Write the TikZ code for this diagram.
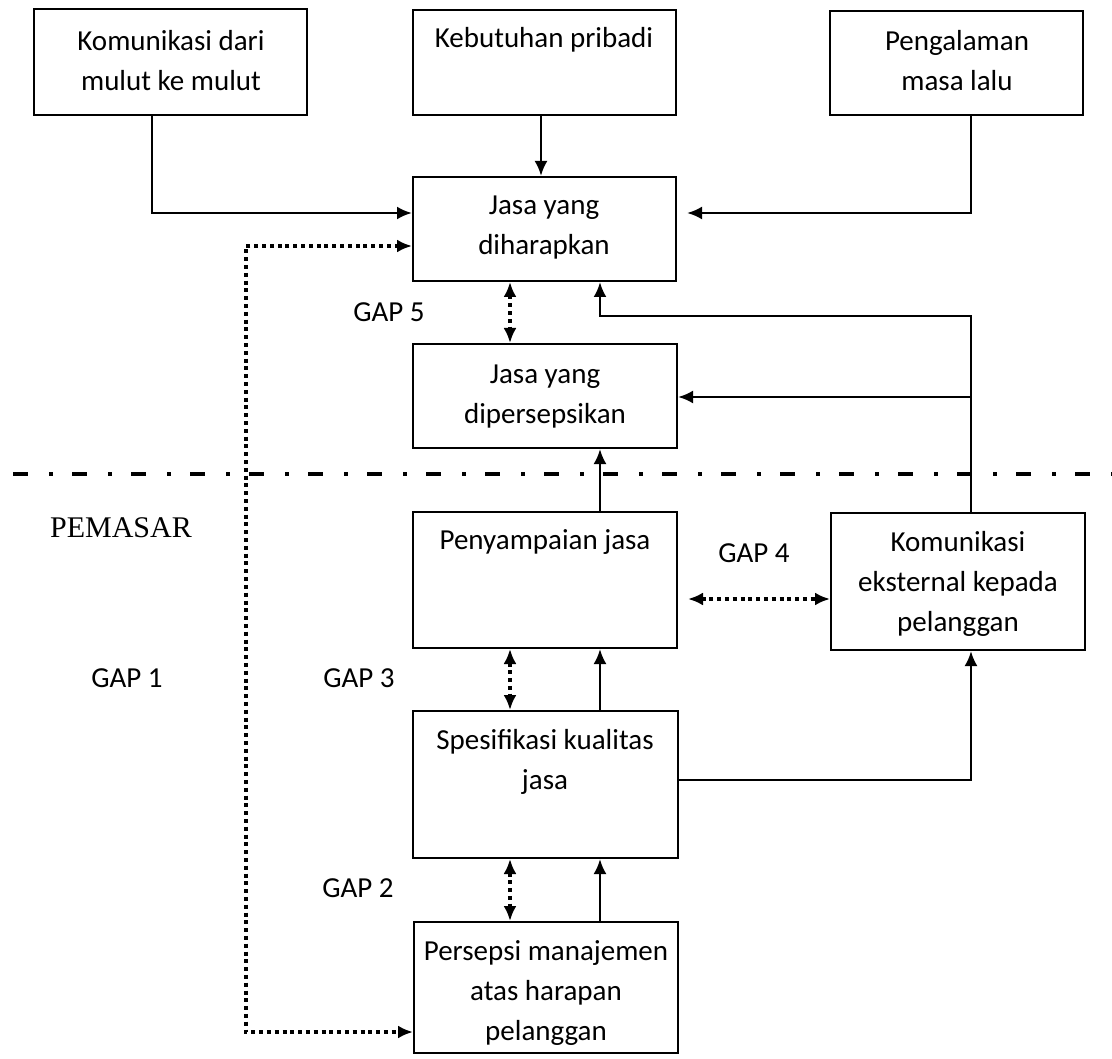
\documentclass[tikz,border=0pt]{standalone}
\usepackage{fontspec}
\setmainfont{Carlito}
\newfontfamily\serifpm{Liberation Serif}
\usetikzlibrary{arrows.meta}
\tikzset{
  box/.style={draw, line width=2pt, inner sep=0pt},
  txt/.style={font=\fontsize{29}{40}\selectfont, align=center, inner sep=0pt},
  conn/.style={line width=2.6pt, -{Latex[length=15pt,width=13pt]}},
  dotc/.style={line width=3.5pt, dash pattern=on 4pt off 3.8pt,
    {Latex[length=15pt,width=13pt]}-{Latex[length=15pt,width=13pt]}},
  sepline/.style={line width=4.5pt, dash pattern=on 15pt off 21pt on 4pt off 19pt},
}
\begin{document}
\begin{tikzpicture}[x=1pt,y=-1pt]
\useasboundingbox (0,0) rectangle (1112,1059);
\fill[white] (0,0) rectangle (1112,1059);

% boxes
\node[box, minimum width=273pt, minimum height=106pt] (b1) at (170.5,62) {};
\node[box, minimum width=263pt, minimum height=105pt] (b2) at (544.5,62.5) {};
\node[box, minimum width=253pt, minimum height=104pt] (b3) at (956.5,63) {};
\node[box, minimum width=263pt, minimum height=104pt] (jd) at (544.5,229) {};
\node[box, minimum width=264pt, minimum height=104pt] (dp) at (545,396) {};
\node[box, minimum width=264pt, minimum height=136pt] (pj) at (545,580) {};
\node[box, minimum width=254pt, minimum height=137pt] (ke) at (958,581.5) {};
\node[box, minimum width=265pt, minimum height=147pt] (sk) at (545.5,784.5) {};
\node[box, minimum width=264pt, minimum height=131pt] (pm) at (546,987.5) {};

% texts
\node[txt] (t1) at (171,61) {Komunikasi dari\\mulut ke mulut};
\node[txt] (t2) at (544,40) {Kebutuhan pribadi};
\node[txt] (t3) at (957,61) {Pengalaman\\masa lalu};
\node[txt] (tjd) at (544,228) {Jasa yang\\diharapkan};
\node[txt] (tdp) at (545,397) {Jasa yang\\dipersepsikan};
\node[txt] (tpj) at (545,542) {Penyampaian jasa};
\node[txt] (tke) at (958,584) {Komunikasi\\eksternal kepada\\pelanggan};
\node[txt] (tsk) at (545,762) {Spesifikasi kualitas\\jasa};
\node[txt] (tpm) at (546,993) {Persepsi manajemen\\atas harapan\\pelanggan};

% gap labels
\node[txt] (g5) at (389,312) {GAP 5};
\node[txt] (g1) at (127,678) {GAP 1};
\node[txt] (g3) at (359,678) {GAP 3};
\node[txt] (g4) at (754,553) {GAP 4};
\node[txt] (g2) at (358,888) {GAP 2};
\node[inner sep=0pt, font=\serifpm\fontsize{30}{36}\selectfont] (pem) at (121,528) {PEMASAR};

% separator
\coordinate (L) at (13,474);
\coordinate (R) at (1112,474);
\draw[sepline] (L) -- (R);

% helper coordinates
\coordinate (c1) at (152,213);
\coordinate (c3) at (971,213);
\coordinate (c5) at (971,316);
\coordinate (c6) at (600,316);
\coordinate (c7) at (971,397);
\coordinate (c9) at (971,780);
\coordinate (vx) at (600,0);
\coordinate (kx) at (541,0);
\coordinate (dx) at (510,0);
\coordinate (d4) at (0,599);
\coordinate (d1) at (246,246);
\coordinate (d2) at (246,1032);

% solid connectors
\draw[conn] (b1.south -| c1) -- (c1) -- (jd.west |- c1);
\draw[conn] (b2.south -| kx) -- (jd.north -| kx);
\draw[conn, shorten >=10pt] (b3.south -| c3) -- (c3) -- (jd.east |- c3);
\draw[conn] (ke.north -| c5) -- (c5) -- (c6) -- (jd.south -| c6);
\draw[conn] (c7) -- (dp.east |- c7);
\draw[conn] (pj.north -| vx) -- (dp.south -| vx);
\draw[conn] (sk.north -| vx) -- (pj.south -| vx);
\draw[conn] (pm.north -| vx) -- (sk.south -| vx);
\draw[conn] (sk.east |- c9) -- (c9) -- (ke.south -| c9);

% dotted gap connectors
\draw[dotc] (jd.south -| dx) -- (dp.north -| dx);
\draw[dotc] (pj.south -| dx) -- (sk.north -| dx);
\draw[dotc] (sk.south -| dx) -- (pm.north -| dx);
\draw[dotc, shorten <=10pt] (pj.east |- d4) -- (ke.west |- d4);
\draw[dotc] (jd.west |- d1) -- (d1) -- (d2) -- (pm.west |- d2);
\end{tikzpicture}
\end{document}
